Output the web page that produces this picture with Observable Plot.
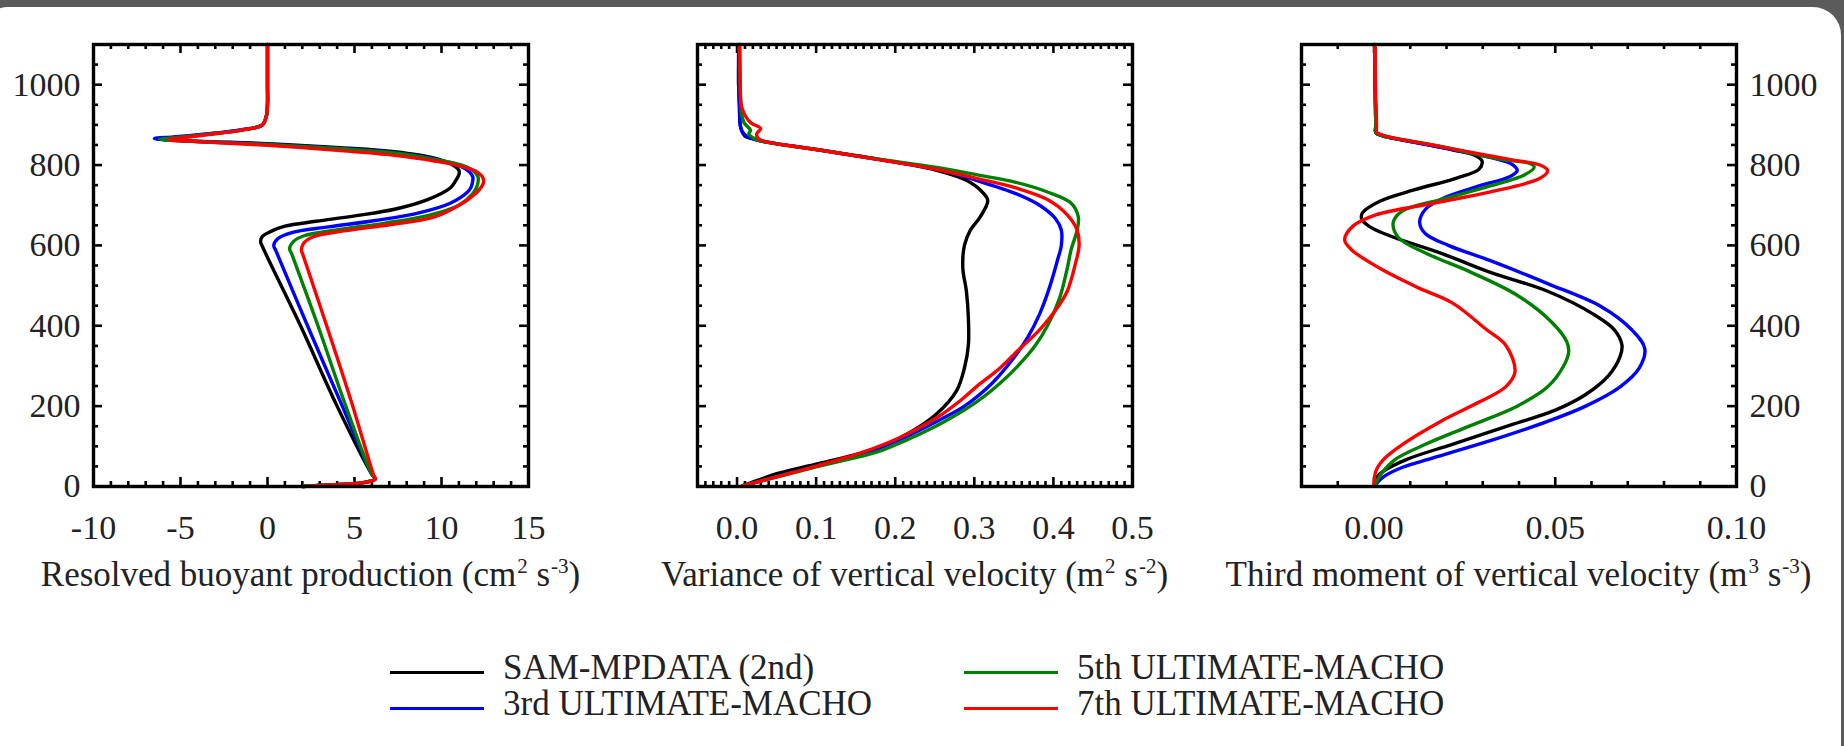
<!DOCTYPE html>
<html>
<head>
<meta charset="utf-8">
<script src="https://cdn.jsdelivr.net/npm/d3@7"></script>
<script src="https://cdn.jsdelivr.net/npm/@observablehq/plot@0.6"></script>
<style>
html, body { margin: 0; padding: 0; width: 1844px; height: 746px; overflow: hidden; background: #5b5b5b; }
#card { position: absolute; left: -20px; top: 7px; width: 1861px; height: 790px; background: #ffffff; border-radius: 28px; }
.panel { position: absolute; top: 0; }
.title { position: absolute; top: 557px; font-family: "Liberation Serif", serif; font-size: 35px; line-height: 35px; color: #222; white-space: nowrap; transform: translateX(-50%); }
.title sup { font-size: 0.6em; vertical-align: 0.62em; line-height: 0; margin-left: 1px; }
.leg-line { position: absolute; height: 3px; }
.leg-text { position: absolute; font-family: "Liberation Serif", serif; font-size: 35px; line-height: 35px; color: #222; white-space: nowrap; }
</style>
</head>
<body>
<div id="card"></div>
<div id="root"></div>
<script>
// ---------- data (height z in m, value x) ----------
const seriesNames = ["SAM-MPDATA (2nd)", "3rd ULTIMATE-MACHO", "5th ULTIMATE-MACHO", "7th ULTIMATE-MACHO"];
const seriesColors = ["#000000", "#0000ff", "#008000", "#ff0000"];

// Panel 1: resolved buoyant production [x, z]
const p1Black = [[0,1100],[0,1000],[0,950],[-0.05,925],[-0.3,900],[-1.5,887],[-3.4,877],[-5.3,869],[-6.3,865],[-4.4,860],[0,853],[4.2,843],[7.3,833],[9.6,817],[10.6,801],[11.0,787],[11.0,776],[10.8,760],[10.5,743],[9.2,714],[7.3,690],[5.1,674],[2.8,660],[1.0,648],[0.2,635],[-0.3,622],[-0.4,610],[-0.3,598],[1.9,400],[4.0,200],[6.0,30],[6.2,19],[5.4,9],[3.6,4],[2.0,0]];
const p1Blue = [[0,1100],[0,1000],[0,950],[-0.05,925],[-0.3,900],[-1.5,888],[-3.4,878],[-5.4,870],[-6.5,866],[-4.5,860],[0,852],[4.0,842],[7.3,831],[9.6,815],[11.0,799],[11.6,783],[11.8,770],[11.8,762],[11.7,745],[11.5,733],[10.5,705],[8.7,681],[6.2,662],[3.5,646],[1.4,632],[0.6,617],[0.36,600],[0.5,585],[2.3,400],[4.3,200],[6.0,30],[6.2,19],[5.4,9],[3.6,4],[2.0,0]];
const p1Green = [[0,1100],[0,1000],[0,950],[-0.05,925],[-0.3,900],[-1.5,887],[-3.4,877],[-5.3,868],[-6.2,864],[-4.2,859],[0,851],[4.0,841],[7.3,830],[9.6,814],[11.2,799],[11.9,783],[12.1,770],[12.1,757],[12.0,743],[11.8,729],[11.0,700],[9.2,674],[6.7,655],[3.9,638],[2.1,624],[1.5,610],[1.27,592],[1.4,578],[2.9,400],[4.5,200],[6.0,30],[6.2,19],[5.4,9],[3.6,4],[2.0,0]];
const p1Red = [[0,1100],[0,1000],[0,950],[-0.05,925],[-0.3,900],[-1.5,887],[-3.4,876],[-5.0,867],[-5.7,863],[-3.8,858],[0,849],[4.2,836],[7.3,824],[9.6,810],[11.2,796],[12.1,781],[12.4,766],[12.4,754],[12.2,740],[11.9,727],[11.2,705],[9.6,671],[7.1,652],[4.4,636],[2.6,621],[2.07,605],[1.95,588],[2.05,575],[3.4,400],[4.9,200],[6.1,28],[6.2,18],[5.4,9],[3.6,4],[2.0,0]];

// Panel 2: variance of vertical velocity [x, z]
const p2Black = [[0.0025,1100],[0.002,1000],[0.003,950],[0.004,900],[0.006,885],[0.01,872],[0.02,865],[0.0325,859],[0.1025,838],[0.18,814],[0.25,788],[0.29,762],[0.31,733],[0.317,712],[0.3075,671],[0.295,638],[0.2875,600],[0.2855,543],[0.29,486],[0.2925,419],[0.2925,352],[0.2875,295],[0.2775,238],[0.2525,181],[0.2175,133],[0.1775,95],[0.1025,57],[0.0525,33],[0.0075,2]];
const p2Blue = [[0.002,1100],[0.002,1000],[0.003,950],[0.004,900],[0.006,885],[0.012,872],[0.022,864],[0.0325,859],[0.1025,838],[0.1775,814],[0.2525,790],[0.3025,762],[0.3525,729],[0.3825,700],[0.4025,667],[0.41,638],[0.41,600],[0.405,562],[0.395,495],[0.3825,429],[0.3675,371],[0.3475,314],[0.3225,257],[0.2875,200],[0.2525,162],[0.2025,114],[0.1525,76],[0.1025,52],[0.0075,2]];
const p2Green = [[0.003,1100],[0.004,1000],[0.005,950],[0.006,924],[0.009,905],[0.017,886],[0.015,878],[0.02,868],[0.0325,859],[0.1025,838],[0.1775,815],[0.2525,794],[0.3025,776],[0.3525,757],[0.3925,733],[0.4225,705],[0.4315,671],[0.43,638],[0.4225,590],[0.4175,543],[0.4075,467],[0.3925,400],[0.3775,352],[0.3575,305],[0.3325,257],[0.3025,210],[0.2625,162],[0.2125,114],[0.1775,86],[0.1025,50],[0.0075,2]];
const p2Red = [[0.0035,1100],[0.004,1000],[0.005,952],[0.01,924],[0.0175,905],[0.03,891],[0.025,878],[0.026,868],[0.0325,860],[0.1025,838],[0.1775,814],[0.2525,789],[0.3025,767],[0.3525,743],[0.3925,714],[0.4175,676],[0.43,638],[0.4325,600],[0.4275,552],[0.4175,486],[0.4025,438],[0.3825,390],[0.3575,343],[0.3325,295],[0.3025,248],[0.2825,214],[0.2525,171],[0.2025,119],[0.1525,81],[0.1025,52],[0.0075,2]];

// Panel 3: third moment of vertical velocity [x, z]
const p3Black = [[0.0002,1100],[0.0003,1000],[0.0005,900],[0.0005,881],[0.002,874],[0.011,857],[0.0216,838],[0.0279,824],[0.0298,810],[0.029,790],[0.0226,767],[0.011,738],[0.0016,710],[-0.0032,681],[-0.0035,670],[-0.0032,662],[-0.0005,643],[0.0058,619],[0.0184,581],[0.0321,533],[0.0479,486],[0.0605,429],[0.0663,390],[0.0684,352],[0.0679,324],[0.0647,276],[0.0584,229],[0.05,190],[0.0374,152],[0.0216,105],[0.0089,67],[0.0026,38],[0.0005,19],[0,2]];
const p3Blue = [[0.0002,1100],[0.0003,1000],[0.0005,900],[0.0005,881],[0.002,874],[0.0163,848],[0.0321,819],[0.0384,800],[0.0395,786],[0.0374,771],[0.029,748],[0.0195,719],[0.0142,690],[0.0126,657],[0.0142,629],[0.0205,600],[0.0321,562],[0.0479,505],[0.0626,448],[0.0711,390],[0.0747,343],[0.0732,295],[0.0679,248],[0.0584,200],[0.0479,162],[0.0321,114],[0.0163,71],[0.0079,48],[0.0026,24],[0.0002,2]];
const p3Green = [[0.0002,1100],[0.0003,1000],[0.0005,900],[0.0005,881],[0.002,874],[0.0163,850],[0.0353,814],[0.0426,805],[0.0442,795],[0.0416,776],[0.0321,748],[0.0184,714],[0.0079,686],[0.0053,657],[0.0068,619],[0.0142,581],[0.0268,533],[0.0395,476],[0.0489,410],[0.0532,360],[0.0537,335],[0.0526,305],[0.0479,248],[0.0395,200],[0.0268,152],[0.0142,105],[0.0058,67],[0.0021,33],[0.0002,2]];
const p3Red = [[0.0003,1100],[0.0004,1000],[0.0007,900],[0.0008,881],[0.0025,874],[0.0184,846],[0.0374,814],[0.0458,800],[0.0479,786],[0.0458,767],[0.0321,733],[0.0163,705],[0.0005,676],[-0.0058,648],[-0.0081,614],[-0.0063,590],[0.0016,543],[0.0121,495],[0.0216,457],[0.0311,390],[0.0363,352],[0.0389,286],[0.0363,248],[0.029,210],[0.0184,162],[0.0079,105],[0.0026,67],[0.0005,38],[0,2]];

// ticks
const yMajor = [0, 200, 400, 600, 800, 1000];
const p1XMajor = [-10, -5, 0, 5, 10, 15];
const p2XMajor = [0.0, 0.1, 0.2, 0.3, 0.4, 0.5];
const p3XMajor = [0.00, 0.05, 0.10];

// ---------- layout ----------
const FW = 435, FH = 442;
const W = 620, H = 620, ML = 93, MT = 44;
const MAJ = 9, MIN = 5;
const font = {fontFamily: "'Liberation Serif', serif", fontSize: "34px", color: "#222", background: "transparent", overflow: "visible"};

function minorTicks(lo, hi, step, majors) {
  const out = [];
  const n = Math.round((hi - lo) / step);
  for (let i = 1; i < n; i++) {
    const v = +(lo + i * step).toFixed(6);
    if (!majors.some(m => Math.abs(m - v) < step / 10)) out.push(v);
  }
  return out;
}

function makePanel({left, xDomain, xMajor, xMinorStep, fmt, series, yAxis, title}) {
  const xMinor = minorTicks(xDomain[0], xDomain[1], xMinorStep, xMajor);
  const yMinor = minorTicks(0, 1100, 50, yMajor);
  const tk = {stroke: "#000", strokeWidth: 2.6};
  const marks = [
    Plot.tickX(xMajor, {x: d => d, insetTop: FH - MAJ, ...tk}),
    Plot.tickX(xMajor, {x: d => d, insetBottom: FH - MAJ, ...tk}),
    Plot.tickX(xMinor, {x: d => d, insetTop: FH - MIN, ...tk}),
    Plot.tickX(xMinor, {x: d => d, insetBottom: FH - MIN, ...tk}),
    Plot.tickY(yMajor, {y: d => d, insetRight: FW - MAJ, ...tk}),
    Plot.tickY(yMajor, {y: d => d, insetLeft: FW - MAJ, ...tk}),
    Plot.tickY(yMinor, {y: d => d, insetRight: FW - MIN, ...tk}),
    Plot.tickY(yMinor, {y: d => d, insetLeft: FW - MIN, ...tk}),
    Plot.axisX(xMajor, {anchor: "bottom", tickSize: 0, tickPadding: 28, tickFormat: fmt, fill: "#222"})
  ];
  if (yAxis) marks.push(Plot.axisY(yMajor, {anchor: yAxis, tickSize: 0, tickPadding: 13, tickFormat: d => String(d), fill: "#222"}));
  series.forEach((s, i) => marks.push(Plot.line(s, {x: d => d[0], y: d => d[1], stroke: seriesColors[i], strokeWidth: 3.4, curve: "catmull-rom"})));
  marks.push(Plot.frame({stroke: "#000", strokeWidth: 3.4}));
  const svg = Plot.plot({
    width: W, height: H,
    marginLeft: ML, marginRight: W - ML - FW, marginTop: MT, marginBottom: H - MT - FH,
    style: font,
    x: {domain: xDomain, axis: null},
    y: {domain: [0, 1100], axis: null},
    marks
  });
  svg.classList.add("panel");
  svg.style.left = (left - ML) + "px";
  document.getElementById("root").appendChild(svg);
  const t = document.createElement("div");
  t.className = "title";
  t.style.left = (left + FW / 2) + "px";
  t.innerHTML = title;
  document.getElementById("root").appendChild(t);
}

makePanel({left: 93, xDomain: [-10, 15], xMajor: p1XMajor, xMinorStep: 1, fmt: d => String(d),
  series: [p1Black, p1Blue, p1Green, p1Red], yAxis: "left",
  title: "Resolved buoyant production (cm<sup>2</sup> s<sup>-3</sup>)"});
makePanel({left: 697, xDomain: [-0.05, 0.5], xMajor: p2XMajor, xMinorStep: 0.01, fmt: d => d.toFixed(1),
  series: [p2Black, p2Blue, p2Green, p2Red], yAxis: null,
  title: "Variance of vertical velocity (m<sup>2</sup> s<sup>-2</sup>)"});
makePanel({left: 1301, xDomain: [-0.02, 0.10], xMajor: p3XMajor, xMinorStep: 0.01, fmt: d => d.toFixed(2),
  series: [p3Black, p3Blue, p3Green, p3Red], yAxis: "right",
  title: "Third moment of vertical velocity (m<sup>3</sup> s<sup>-3</sup>)"});

// ---------- legend ----------
const legendPos = [[390, 672], [390, 708], [964, 672], [964, 708]];
seriesNames.forEach((name, i) => {
  const [lx, ly] = legendPos[i];
  const ln = document.createElement("div");
  ln.className = "leg-line";
  ln.style.left = lx + "px"; ln.style.top = (ly - 1.5) + "px"; ln.style.width = "94px";
  ln.style.background = seriesColors[i];
  document.body.appendChild(ln);
  const tx = document.createElement("div");
  tx.className = "leg-text";
  tx.style.left = (lx + 113) + "px"; tx.style.top = (ly - 22) + "px";
  tx.textContent = name;
  document.body.appendChild(tx);
});
</script>
</body>
</html>
